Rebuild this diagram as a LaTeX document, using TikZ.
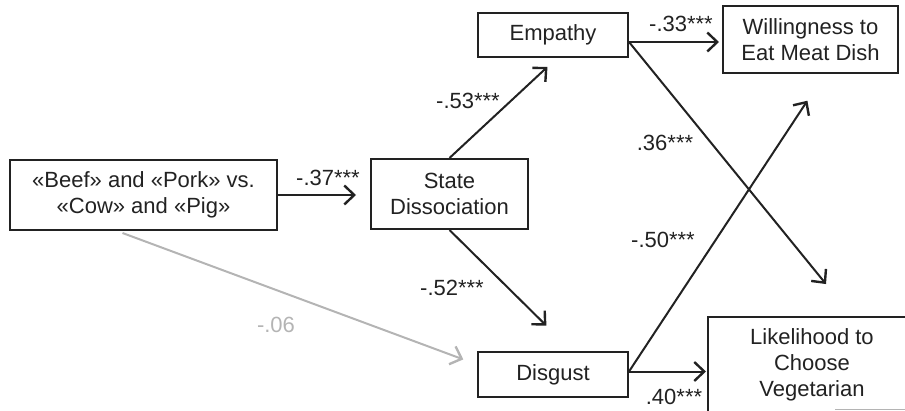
\documentclass[tikz,border=0pt]{standalone}
\usepackage{fontspec}
\setmainfont{Liberation Sans}
\usetikzlibrary{arrows.meta}
\definecolor{ink}{HTML}{222222}
\definecolor{lgray}{HTML}{B4B4B4}
\begin{document}
\begin{tikzpicture}[x=0.5pt,y=-0.5pt,
  box/.style={draw=ink,line width=1pt,fill=white,inner sep=0pt,align=center,text=ink,font=\fontsize{11}{13}\selectfont},
  lab/.style={text=ink,font=\fontsize{11}{13}\selectfont,inner sep=0pt},
  glab/.style={lab,text=lgray},
  arr/.style={draw=ink,line width=1pt,-{Straight Barb[length=5pt,width=9.5pt,line width=1.2pt]}},
  garr/.style={arr,draw=lgray}]
\useasboundingbox (0,0) rectangle (905,411);
\clip (0,0) rectangle (905,411);
% boxes
\node[box,minimum width=133.5pt,minimum height=35pt] (lb) at (143.5,195) {«Beef» and «Pork» vs.\\«Cow» and «Pig»};
\node[box,minimum width=78.5pt,minimum height=35pt] (sd) at (449.5,194) {State\\Dissociation};
\node[box,minimum width=75pt,minimum height=22pt] (emp) at (553,35) {Empathy};
\node[box,minimum width=87.5pt,minimum height=33.5pt] (wil) at (810.5,39.5) {Willingness to\\Eat Meat Dish};
\node[box,minimum width=75pt,minimum height=22.5pt] (dis) at (553,374.5) {Disgust};
\node[box,minimum width=104pt,minimum height=48pt] (lik) at (812,365) {Likelihood to\\Choose\\Vegetarian};
% anchor points
\coordinate (e1) at ([yshift=-3.5pt]emp.east);
\coordinate (d1) at ([yshift=1.5pt]dis.east);
% connectors
\draw[arr,shorten >=7pt] (lb.east) -- (lb.east -| sd.west);
\draw[arr,shorten >=6.5pt] (sd.north) -- ([xshift=2pt]emp.south);
\draw[arr,shorten >=18pt] (sd.south) -- ([xshift=9.5pt]dis.north);
\draw[garr,shorten >=7.3pt] ([xshift=-10.5pt,yshift=-1pt]lb.south) -- ([yshift=5pt]dis.west);
\draw[arr,shorten >=1.5pt] (e1) -- (e1 -| wil.west);
\draw[arr,shorten >=20.6pt] (e1) -- ([xshift=20pt]lik.north);
\draw[arr,shorten >=16pt] (d1) -- ([xshift=7.25pt]wil.south);
\draw[arr,shorten >=0.5pt] (d1) -- (d1 -| lik.west);
% labels
\node[lab] (l37) at (328,178) {-.37***};
\node[lab] (l53) at (468,101) {-.53***};
\node[lab] (l52) at (452,288) {-.52***};
\node[glab] (l06) at (276,325) {-.06};
\node[lab] (l33) at (681,24) {-.33***};
\node[lab] (l36) at (665,143) {.36***};
\node[lab] (l50) at (663,240) {-.50***};
\node[lab] (l40) at (674,397) {.40***};
% small grey rule at the lower right
\draw[lgray,line width=0.6pt] (835,409.5) -- (905,409.5);
\end{tikzpicture}
\end{document}
